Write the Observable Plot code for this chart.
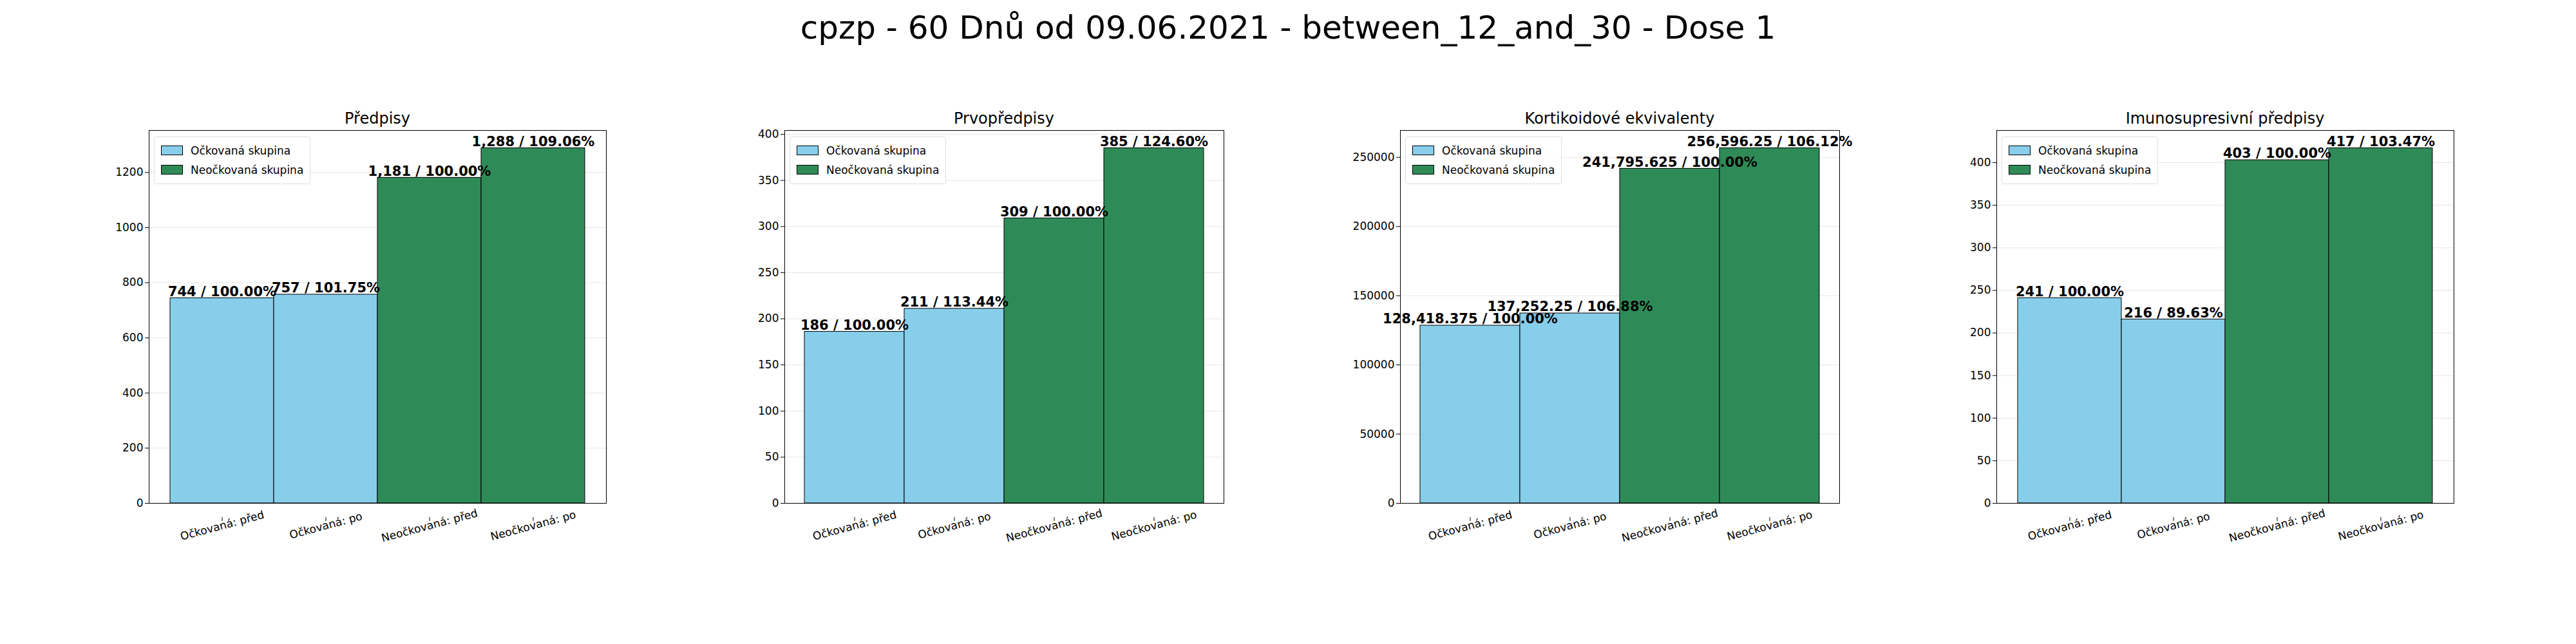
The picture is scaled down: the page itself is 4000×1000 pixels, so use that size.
<!DOCTYPE html>
<html>
<head>
<meta charset="utf-8">
<script src="https://cdn.jsdelivr.net/npm/d3@7"></script>
<script src="https://cdn.jsdelivr.net/npm/@observablehq/plot@0.6"></script>
<style>
  body { margin: 0; background: #fff; font-family: "DejaVu Sans", sans-serif; }
  #wrap { position: relative; width: 4000px; height: 1000px; }
  #title { position: absolute; top: 14px; width: 4000px; text-align: center; font-size: 50px; }
  .panel { position: absolute; top: 150px; }
  .ptitle { position: absolute; width: 100%; text-align: center; font-size: 24px; top: 20px; }
  .legend { position: absolute; border: 1px solid #ddd; border-radius: 4px; background: rgba(255,255,255,0.8); padding: 6px 10px; font-size: 17px; line-height: 30px; }
  .sw { display: inline-block; width: 32px; height: 13px; border: 1px solid #000; margin-right: 12px; vertical-align: -1px; }
</style>
</head>
<body>
<div id="wrap"><div id="title">cpzp - 60 Dnů od 09.06.2021 - between_12_and_30 - Dose 1</div></div>
<script>
const categories = ["Očkovaná: před", "Očkovaná: po", "Neočkovaná: před", "Neočkovaná: po"]
const groups = ["Očkovaná skupina", "Očkovaná skupina", "Neočkovaná skupina", "Neočkovaná skupina"]
const panelTitles = ["Předpisy", "Prvopředpisy", "Kortikoidové ekvivalenty", "Imunosupresivní předpisy"]
const predpisy = [744, 757, 1181, 1288]
const prvopredpisy = [186, 211, 309, 385]
const kortikoidy = [128418.375, 137252.25, 241795.625, 256596.25]
const imuno = [241, 216, 403, 417]
const pctPredpisy = [100, 101.75, 100, 109.06]
const pctPrvo = [100, 113.44, 100, 124.60]
const pctKorti = [100, 106.88, 100, 106.12]
const pctImuno = [100, 89.63, 100, 103.47]
const yTicks = [d3.range(0, 1201, 200), d3.range(0, 401, 50), d3.range(0, 250001, 50000), d3.range(0, 401, 50)]

const series = [predpisy, prvopredpisy, kortikoidy, imuno]
const pcts = [pctPredpisy, pctPrvo, pctKorti, pctImuno]
const axisLeft = [231, 1218, 2174, 3100]
const axisWidth = [710, 682, 682, 710]
const mL = 110, mT = 52, innerH = 579, H = 780

const fmt = v => v.toLocaleString("en-US", {maximumFractionDigits: 3})

series.forEach((vals, i) => {
  const data = categories.map((c, j) => ({cat: c, grp: groups[j], v: vals[j], pct: pcts[i][j]}))
  const W = mL + axisWidth[i] + 20
  const chart = Plot.plot({
    width: W,
    height: H,
    marginLeft: mL,
    marginRight: 20,
    marginTop: mT,
    marginBottom: H - mT - innerH,
    style: {fontFamily: "DejaVu Sans", fontSize: "17px", color: "#000"},
    x: {domain: categories, paddingInner: 0, paddingOuter: 0.2, label: null},
    y: {domain: [0, d3.max(vals) * 1.05], label: null},
    color: {domain: ["Očkovaná skupina", "Neočkovaná skupina"], range: ["#87CEEB", "#2E8B57"]},
    marks: [
      Plot.gridY(yTicks[i], {stroke: "#000", strokeOpacity: 0.1}),
      Plot.axisY({ticks: yTicks[i], tickFormat: d => String(d), tickSize: 6, label: null}),
      Plot.axisX({tickSize: 6, label: null, tickRotate: -15, textAnchor: "middle", dy: 22}),
      Plot.barY(data, {x: "cat", y: "v", fill: "grp", stroke: "#000", strokeWidth: 1, inset: 0}),
      Plot.text(data, {x: "cat", y: "v", text: d => `${fmt(d.v)} / ${d.pct.toFixed(2)}%`, dy: -10, fontWeight: "bold", fontSize: 21, fill: "#000"}),
      Plot.frame({stroke: "#000"})
    ]
  })
  const p = document.createElement("div")
  p.className = "panel"
  p.style.left = (axisLeft[i] - mL) + "px"
  p.style.width = W + "px"
  p.appendChild(chart)
  const t = document.createElement("div")
  t.className = "ptitle"
  t.style.left = (mL - 20) / 2 + "px"
  t.textContent = panelTitles[i]
  p.appendChild(t)
  const lg = document.createElement("div")
  lg.className = "legend"
  lg.style.left = (mL + 8) + "px"
  lg.style.top = (mT + 10) + "px"
  lg.innerHTML = `<div><span class="sw" style="background:#87CEEB"></span>Očkovaná skupina</div><div><span class="sw" style="background:#2E8B57"></span>Neočkovaná skupina</div>`
  p.appendChild(lg)
  document.getElementById("wrap").appendChild(p)
})
</script>
</body>
</html>
